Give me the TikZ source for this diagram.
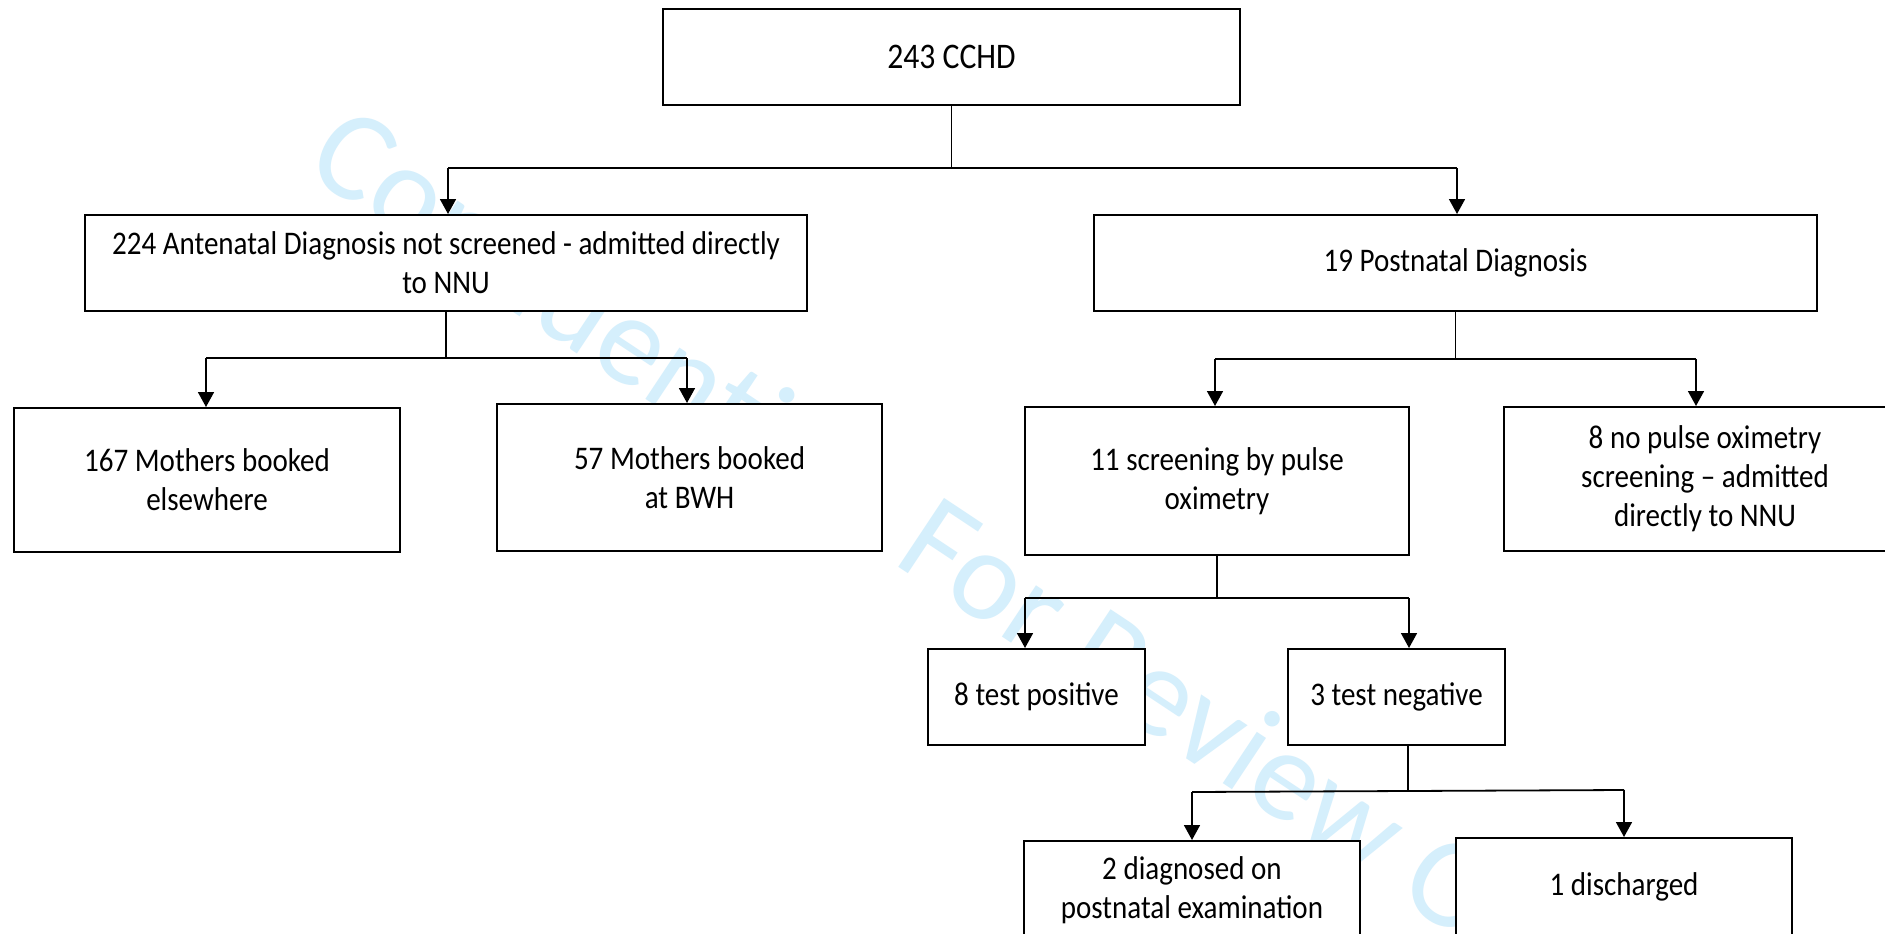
\documentclass[tikz,border=0pt]{standalone}
\usepackage{fontspec}
\usetikzlibrary{arrows.meta,calc}
\newfontfamily\boxfont{Carlito}[FakeStretch=0.88]
\newfontfamily\wmfont{Carlito}
\definecolor{wmblue}{RGB}{213,239,252}
\begin{document}
\begin{tikzpicture}[x=1pt,y=-1pt,
  box/.style={draw=black, line width=2pt, fill=white, inner sep=0pt, align=center,
    font={\boxfont\fontsize{33}{39}\selectfont}},
  bigbox/.style={box, font={\boxfont\fontsize{36}{42}\selectfont}},
  stemline/.style={line width=1.3pt},
  barline/.style={line width=1.8pt},
  arr/.style={line width=1.7pt, -{Triangle[width=16pt,length=15pt]}},
  wm/.style={text=wmblue, inner sep=0pt, font={\wmfont\fontsize{129}{129}\selectfont}}
]
\useasboundingbox (0,0) rectangle (1885,934);
\clip (0,0) rectangle (1885,934);
\fill[white] (0,0) rectangle (1885,934);
% watermark
\node[wm, rotate=-33.6] (wmark) at (967.7,572.2) {Confidential: For Review Only};
% boxes
\node[bigbox, minimum width=577pt, minimum height=96pt] (top) at (951.5,57) {243 CCHD};
\node[box, minimum width=722pt, minimum height=96pt] (b224) at (446,263) {224 Antenatal Diagnosis not screened - admitted directly\\to NNU};
\node[box, minimum width=723pt, minimum height=96pt] (b19) at (1455.5,263) {19 Postnatal Diagnosis};
\node[box, minimum width=386pt, minimum height=144pt] (b167) at (207,480) {167 Mothers booked\\elsewhere};
\node[box, minimum width=385pt, minimum height=147pt] (b57) at (689.5,477.5) {57 Mothers booked\\at BWH};
\node[box, minimum width=384pt, minimum height=148pt] (b11) at (1217,481) {11 screening by pulse\\oximetry};
\node[box, minimum width=402pt, minimum height=144pt] (b8no) at (1705,479) {8 no pulse oximetry\\screening – admitted\\directly to NNU};
\node[box, minimum width=217pt, minimum height=96pt] (bpos) at (1036.5,697) {8 test positive};
\node[box, minimum width=217pt, minimum height=96pt] (bneg) at (1396.5,697) {3 test negative};
\node[box, minimum width=336pt, minimum height=98pt] (b2) at (1192,890) {2 diagnosed on\\postnatal examination};
\node[box, minimum width=336pt, minimum height=97pt] (b1) at (1624,886.5) {1 discharged};
% level 1
\coordinate (j1l) at (448,168);
\coordinate (j1r) at (1457,168);
\draw[stemline] (top.south) -- (top.south |- j1l);
\draw[barline] (j1l) -- (j1r);
\draw[arr] (j1l) -- (j1l |- b224.north);
\draw[arr] (j1r) -- (j1r |- b19.north);
% level 2 left
\coordinate (j2l) at (206,358);
\coordinate (j2r) at (687,358);
\draw[stemline] (b224.south) -- (b224.south |- j2l);
\draw[barline] (j2l) -- (j2r);
\draw[arr] (j2l) -- (j2l |- b167.north);
\draw[arr] (j2r) -- (j2r |- b57.north);
% level 2 right
\coordinate (j3l) at (1215,359);
\coordinate (j3r) at (1696,359);
\draw[stemline] (b19.south) -- (b19.south |- j3l);
\draw[barline] (j3l) -- (j3r);
\draw[arr] (j3l) -- (j3l |- b11.north);
\draw[arr] (j3r) -- (j3r |- b8no.north);
% level 3
\coordinate (j4l) at (1025,598);
\coordinate (j4r) at (1409,598);
\draw[stemline] (b11.south) -- (b11.south |- j4l);
\draw[barline] (j4l) -- (j4r);
\draw[arr] (j4l) -- (j4l |- bpos.north);
\draw[arr] (j4r) -- (j4r |- bneg.north);
% level 4
\coordinate (j5m) at (1408,791);
\coordinate (j5l) at (1192,792);
\coordinate (j5r) at (1624,790);
\draw[stemline] (j5m |- bneg.south) -- (j5m);
\draw[barline] (j5l) -- (j5r);
\draw[arr] (j5l) -- (j5l |- b2.north);
\draw[arr] (j5r) -- (j5r |- b1.north);
\end{tikzpicture}
\end{document}
